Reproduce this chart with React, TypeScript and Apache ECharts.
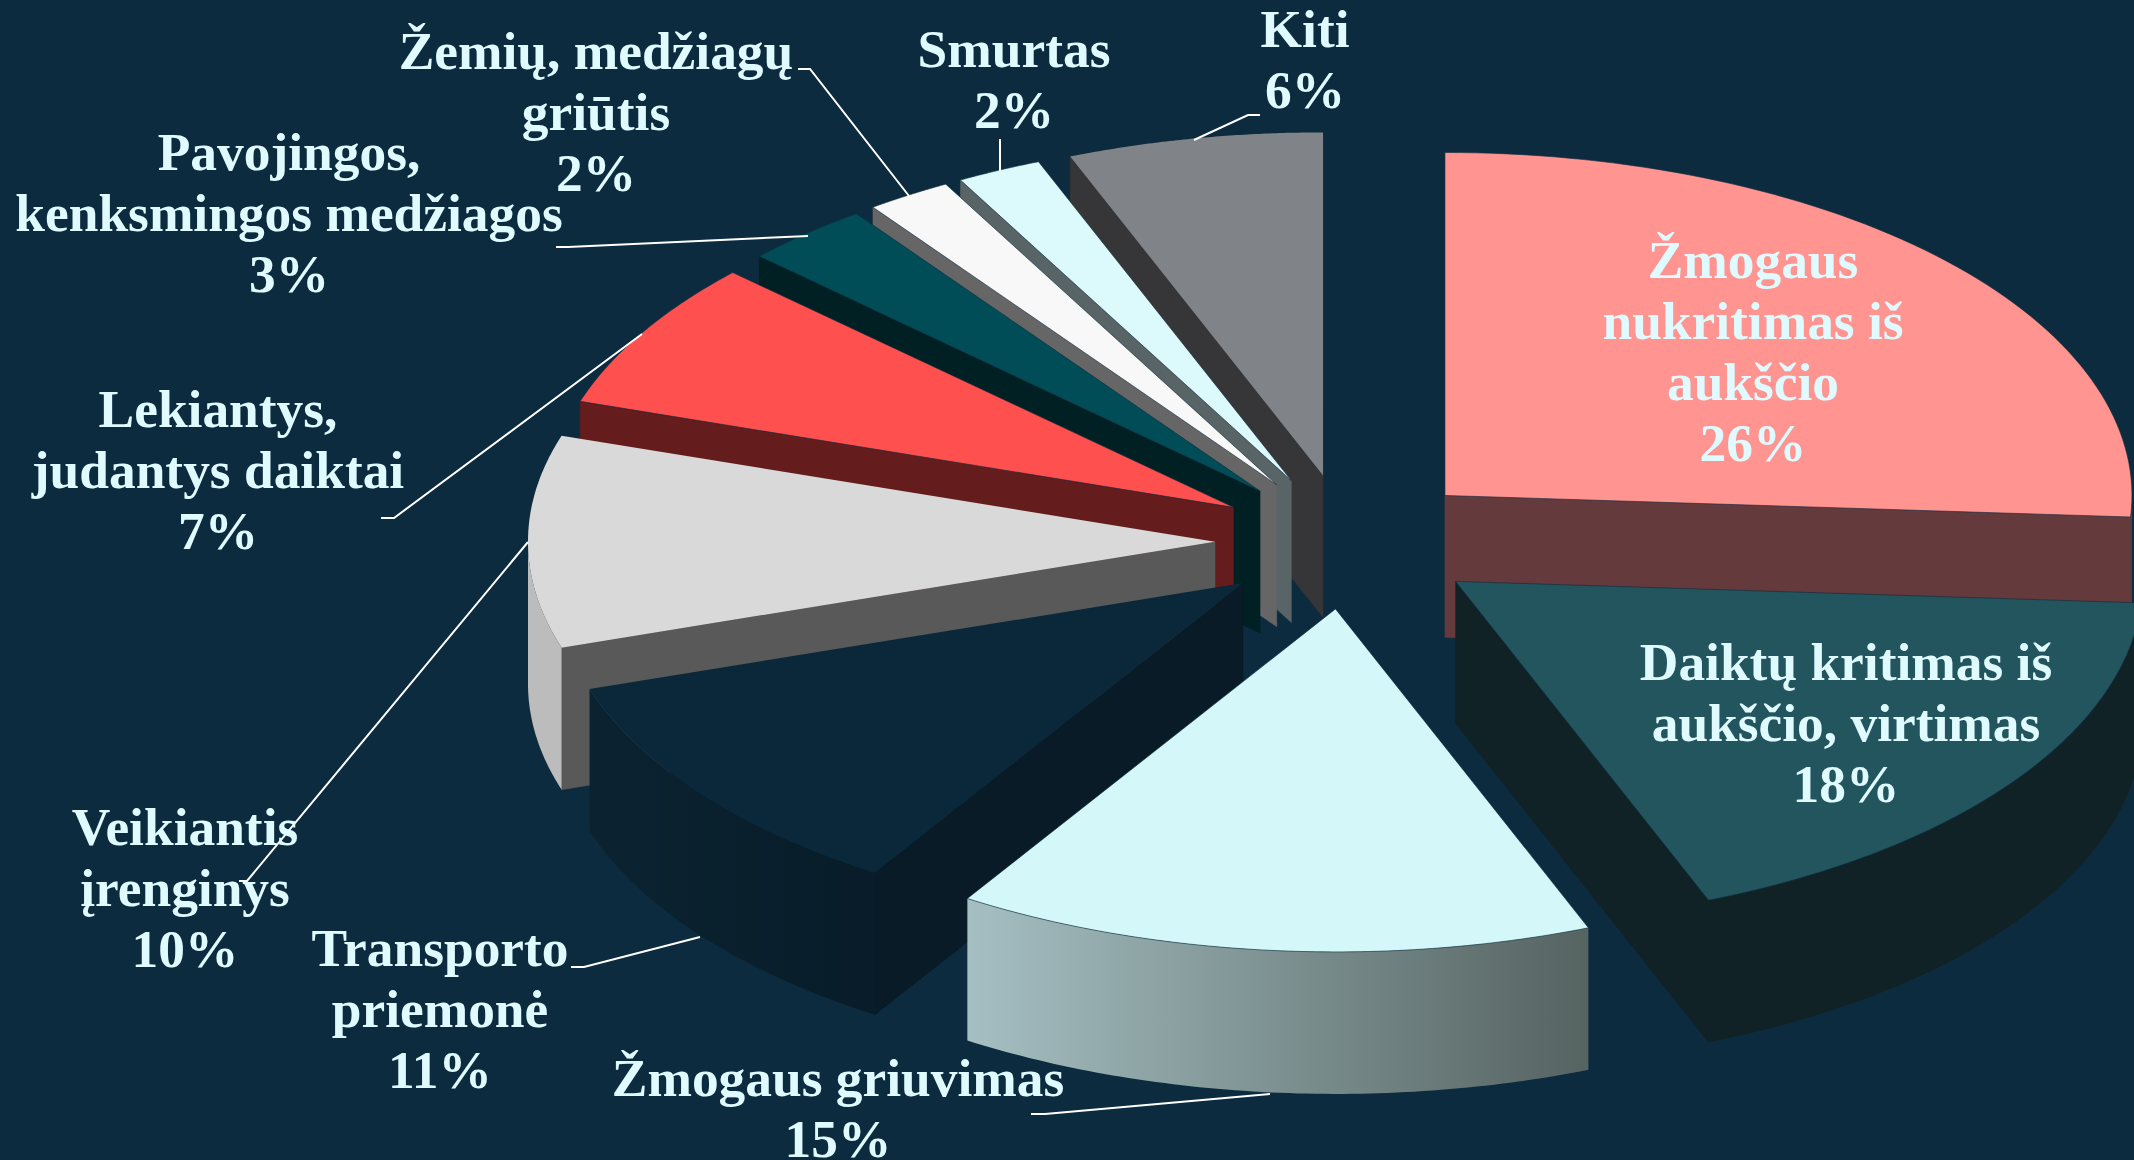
import React, { useEffect, useRef } from "react";
import * as echarts from "echarts";

const categories = [
  "Žmogaus\nnukritimas iš\naukščio",
  "Daiktų kritimas iš\naukščio, virtimas",
  "Žmogaus griuvimas",
  "Transporto\npriemonė",
  "Veikiantis\nįrenginys",
  "Lekiantys,\njudantys daiktai",
  "Pavojingos,\nkenksmingos medžiagos",
  "Žemių, medžiagų\ngriūtis",
  "Smurtas",
  "Kiti",
];
const percentValues = [26, 18, 15, 11, 10, 7, 3, 2, 2, 6];

// style and layout, per slice, in the order of the categories
const topColors = ["#ff9490", "#23555f", "#d4f7fa", "#0a283a", "#d9d9d9", "#ff5050", "#004d58", "#f8f8f8", "#dcf9fb", "#808387"];
const topStrokes = ["rgba(13,43,62,0.6)", "rgba(13,43,62,0.6)", "rgba(13,43,62,0.6)", "none", "none", "rgba(13,43,62,0.6)", "rgba(13,43,62,0.6)", "rgba(13,43,62,0.6)", "rgba(13,43,62,0.6)", "none"];
const cutColors = ["#643a3c", "#102226", "#5a6866", "#081b27", "#595959", "#641c1c", "#012024", "#666666", "#586466", "#363638"];
const wallStops: [string, string][] = [
  ["#643a3c", "#643a3c"],
  ["#102226", "#102226"],
  ["#a5bfc2", "#556361"],
  ["#0b2331", "#081c29"],
  ["#bcbcbc", "#bcbcbc"],
  ["#641c1c", "#641c1c"],
  ["#012024", "#012024"],
  ["#666666", "#666666"],
  ["#586466", "#586466"],
  ["#363638", "#363638"],
];
const labelAnchors = [
  [1753, 351], [1846, 723], [838, 1108], [440, 1009], [185, 888],
  [218, 470], [289, 213], [596, 112], [1014, 79], [1305, 59],
];
const leaderLines = [
  [[1031, 1114], [1045, 1114], [1270, 1094]],
  [[571, 967], [584, 967], [700, 937]],
  [[239, 881], [247, 881], [528, 542]],
  [[381, 518], [394, 518], [642, 334]],
  [[556, 247], [568, 247], [808, 236]],
  [[798, 69], [810, 69], [909, 196]],
  [[1000, 139], [1000, 171]],
  [[1260, 115], [1248, 115], [1194, 140]],
];

const BG = "#0d2b3e";
const CX = 1348, CY = 541.7, RX = 687, RY = 343, DEPTH = 142, EXPLODE_X = 133, EXPLODE_Y = 67.5;
const TEXT_FILL = "#e0fbff";

const total = percentValues.reduce((a, b) => a + b, 0);
const startShares: number[] = [];
percentValues.reduce((acc, v, i) => { startShares[i] = acc; return acc + v; }, 0);
const midCos = (i: number) => Math.cos(((startShares[i] + percentValues[i] / 2) / total) * 2 * Math.PI);
// painter's order: farthest slice first
const paintOrder = percentValues.map((_, i) => i).sort((a, b) => midCos(b) - midCos(a));

function rim(ax: number, ay: number, t: number): [number, number] {
  return [ax + RX * Math.sin(t), ay - RY * Math.cos(t)];
}

function renderSlice(params: any, api: any) {
  const i = api.value(0);
  const a0 = (api.value(2) / total) * 2 * Math.PI;
  const a1 = ((api.value(2) + api.value(1)) / total) * 2 * Math.PI;
  const mid = (a0 + a1) / 2;
  const ax = CX + EXPLODE_X * Math.sin(mid);
  const ay = CY - EXPLODE_Y * Math.cos(mid);
  const N = 72;
  const arc: [number, number][] = [];
  for (let k = 0; k <= N; k++) arc.push(rim(ax, ay, a0 + ((a1 - a0) * k) / N));
  const down = (p: [number, number]): [number, number] => [p[0], p[1] + DEPTH];
  const children: any[] = [];
  const quad = (p: [number, number], q: [number, number], fill: string) =>
    children.push({ type: "polygon", shape: { points: [p, q, down(q), down(p)] }, style: { fill, stroke: fill, lineWidth: 0.5 } });
  const apex: [number, number] = [ax, ay];
  // a radial face is seen only when it looks down the screen
  if (a0 > Math.PI) quad(apex, arc[0], cutColors[i]);
  if (a1 < Math.PI) quad(apex, arc[N], cutColors[i]);
  // outer wall: only the part of the rim on the near half of the ellipse
  const lo = Math.max(a0, Math.PI / 2), hi = Math.min(a1, (3 * Math.PI) / 2);
  if (hi > lo) {
    const top: [number, number][] = [];
    for (let k = 0; k <= N; k++) top.push(rim(ax, ay, lo + ((hi - lo) * k) / N));
    const stops = wallStops[i];
    children.push({
      type: "polygon",
      shape: { points: [...top, ...top.slice().reverse().map(down)] },
      style: {
        fill: new echarts.graphic.LinearGradient(0, 0, 1, 0, [
          { offset: 0, color: stops[0] },
          { offset: 1, color: stops[1] },
        ]),
      },
    });
  }
  children.push({
    type: "polygon",
    shape: { points: [apex, ...arc] },
    style: { fill: topColors[i], stroke: topStrokes[i], lineWidth: 1 },
  });
  return { type: "group", children };
}

function renderLabel(params: any, api: any) {
  const i = api.value(0);
  return {
    type: "text",
    x: labelAnchors[i][0],
    y: labelAnchors[i][1],
    style: {
      text: `${categories[i]}\n${api.value(1)}%`,
      fill: TEXT_FILL,
      font: 'bold 53.4px "Liberation Serif"',
      align: "center",
      verticalAlign: "middle",
      lineHeight: 61,
    },
  };
}

export default function App() {
  const ref = useRef<HTMLDivElement>(null);
  useEffect(() => {
    document.body.style.margin = "0";
    document.body.style.overflow = "hidden";
    const chart = echarts.init(ref.current!, null, { renderer: "svg" });
    chart.setOption({
      animation: false,
      backgroundColor: BG,
      series: [
        {
          type: "custom",
          name: "Slices",
          coordinateSystem: "none",
          silent: true,
          clip: false,
          renderItem: renderSlice,
          data: paintOrder.map((i) => ({ name: categories[i], value: [i, percentValues[i], startShares[i]] })),
          z: 2,
        },
        {
          type: "custom",
          name: "Labels",
          coordinateSystem: "none",
          silent: true,
          renderItem: renderLabel,
          data: percentValues.map((v, i) => ({ name: categories[i], value: [i, v] })),
          z: 4,
        },
      ],
      graphic: leaderLines.map((points) => ({
        type: "polyline",
        z: 3,
        silent: true,
        shape: { points },
        style: { stroke: "#ffffff", lineWidth: 2, fill: "none" },
      })),
    });
    return () => chart.dispose();
  }, []);
  return <div ref={ref} style={{ width: 2134, height: 1160 }} />;
}
